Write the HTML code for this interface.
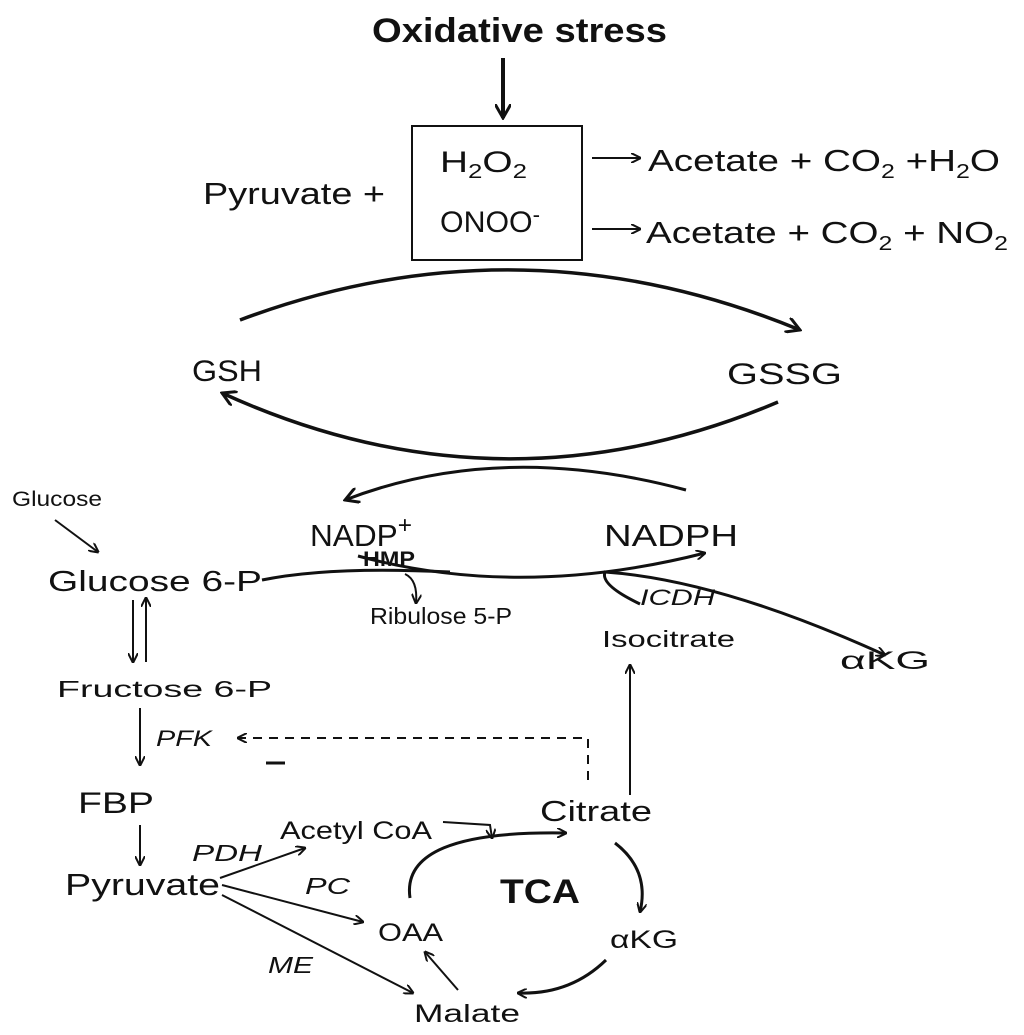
<!DOCTYPE html>
<html><head><meta charset="utf-8"><style>body{margin:0;background:#fff}svg{display:block}text{font-family:"Liberation Sans",sans-serif;fill:#111}</style></head><body>
<svg width="1024" height="1035" viewBox="0 0 1024 1035" xmlns="http://www.w3.org/2000/svg">
<defs>
<marker id="a" markerWidth="10" markerHeight="10" refX="9" refY="5" orient="auto" markerUnits="userSpaceOnUse"><path d="M0,0 L10,5 L0,10" fill="none" stroke="#111" stroke-width="2"/></marker>
<marker id="b" markerWidth="16" markerHeight="16" refX="14" refY="8" orient="auto" markerUnits="userSpaceOnUse"><path d="M0,0 L14,8 L0,16" fill="none" stroke="#111" stroke-width="3"/></marker>
</defs>
<g stroke="#111" fill="none">
<line x1="503" y1="58" x2="503" y2="118" stroke-width="4" marker-end="url(#b)"/>
<rect x="412" y="126" width="170" height="134" stroke-width="2"/>
<line x1="592" y1="158" x2="640" y2="158" stroke-width="2" marker-end="url(#a)"/>
<line x1="592" y1="229" x2="640" y2="229" stroke-width="2" marker-end="url(#a)"/>
<path d="M240,320 Q520,215 800,330" stroke-width="3.5" marker-end="url(#b)"/>
<path d="M778,402 Q500,520 222,393" stroke-width="3.5" marker-end="url(#b)"/>
<path d="M686,490 Q500,440 345,500" stroke-width="3" marker-end="url(#b)"/>
<line x1="55" y1="520" x2="98" y2="552" stroke-width="2" marker-end="url(#a)"/>
<path d="M262,580 Q330,566 450,572" stroke-width="3"/>
<path d="M358,556 Q520,600 705,553" stroke-width="3" marker-end="url(#a)"/>
<path d="M405,574 Q418,580 416,603" stroke-width="2" marker-end="url(#a)"/>
<path d="M640,604 Q600,585 605,572 Q720,580 885,655" stroke-width="3" marker-end="url(#a)"/>
<line x1="133" y1="600" x2="133" y2="662" stroke-width="2" marker-end="url(#a)"/>
<line x1="146" y1="662" x2="146" y2="598" stroke-width="2" marker-end="url(#a)"/>
<line x1="140" y1="708" x2="140" y2="765" stroke-width="2" marker-end="url(#a)"/>
<path d="M588,780 L588,738 L238,738" stroke-width="2" stroke-dasharray="9,7" marker-end="url(#a)"/>
<line x1="266" y1="763" x2="285" y2="763" stroke-width="3"/>
<line x1="140" y1="825" x2="140" y2="865" stroke-width="2" marker-end="url(#a)"/>
<line x1="220" y1="878" x2="305" y2="848" stroke-width="2" marker-end="url(#a)"/>
<line x1="222" y1="885" x2="363" y2="922" stroke-width="2" marker-end="url(#a)"/>
<line x1="222" y1="895" x2="413" y2="993" stroke-width="2" marker-end="url(#a)"/>
<path d="M443,822 L490,825 L492,838" stroke-width="2" marker-end="url(#a)"/>
<path d="M410,898 Q400,830 566,833" stroke-width="3" marker-end="url(#a)"/>
<line x1="630" y1="795" x2="630" y2="665" stroke-width="2" marker-end="url(#a)"/>
<path d="M615,843 Q650,870 640,912" stroke-width="3" marker-end="url(#a)"/>
<path d="M606,960 Q570,995 518,993" stroke-width="3" marker-end="url(#a)"/>
<line x1="458" y1="990" x2="425" y2="952" stroke-width="2" marker-end="url(#a)"/>
</g>
<g lengthAdjust="spacingAndGlyphs">
<text x="372" y="42" font-size="34" font-weight="bold" textLength="295" lengthAdjust="spacingAndGlyphs">Oxidative stress</text>
<text x="440" y="172" font-size="30" textLength="87" lengthAdjust="spacingAndGlyphs">H<tspan font-size="20" dy="6">2</tspan><tspan dy="-6">O</tspan><tspan font-size="20" dy="6">2</tspan></text>
<text x="440" y="232" font-size="30" textLength="100" lengthAdjust="spacingAndGlyphs">ONOO<tspan font-size="22" dy="-10">-</tspan></text>
<text x="203" y="204" font-size="31" textLength="182" lengthAdjust="spacingAndGlyphs">Pyruvate +</text>
<text x="648" y="171" font-size="31" textLength="352" lengthAdjust="spacingAndGlyphs">Acetate + CO<tspan font-size="20" dy="7">2</tspan><tspan dy="-7"> +H</tspan><tspan font-size="20" dy="7">2</tspan><tspan dy="-7">O</tspan></text>
<text x="646" y="243" font-size="31" textLength="362" lengthAdjust="spacingAndGlyphs">Acetate + CO<tspan font-size="20" dy="7">2</tspan><tspan dy="-7"> + NO</tspan><tspan font-size="20" dy="7">2</tspan></text>
<text x="192" y="381" font-size="30" textLength="70" lengthAdjust="spacingAndGlyphs">GSH</text>
<text x="727" y="384" font-size="30" textLength="115" lengthAdjust="spacingAndGlyphs">GSSG</text>
<text x="12" y="506" font-size="21" textLength="90" lengthAdjust="spacingAndGlyphs">Glucose</text>
<text x="310" y="546" font-size="31" textLength="102" lengthAdjust="spacingAndGlyphs">NADP<tspan font-size="24" dy="-13">+</tspan></text>
<text x="363" y="566" font-size="21" font-weight="bold" textLength="52" lengthAdjust="spacingAndGlyphs">HMP</text>
<text x="604" y="546" font-size="31" textLength="134" lengthAdjust="spacingAndGlyphs">NADPH</text>
<text x="48" y="591" font-size="29" textLength="214" lengthAdjust="spacingAndGlyphs">Glucose 6-P</text>
<text x="370" y="624" font-size="23" textLength="142" lengthAdjust="spacingAndGlyphs">Ribulose 5-P</text>
<text x="640" y="605" font-size="22" font-style="italic" textLength="75" lengthAdjust="spacingAndGlyphs">ICDH</text>
<text x="602" y="647" font-size="23" textLength="133" lengthAdjust="spacingAndGlyphs">Isocitrate</text>
<text x="840" y="669" font-size="25" textLength="90" lengthAdjust="spacingAndGlyphs">αKG</text>
<text x="57" y="697" font-size="23" textLength="215" lengthAdjust="spacingAndGlyphs">Fructose 6-P</text>
<text x="156" y="746" font-size="22" font-style="italic" textLength="56" lengthAdjust="spacingAndGlyphs">PFK</text>
<text x="78" y="813" font-size="30" textLength="76" lengthAdjust="spacingAndGlyphs">FBP</text>
<text x="540" y="821" font-size="29" textLength="112" lengthAdjust="spacingAndGlyphs">Citrate</text>
<text x="280" y="839" font-size="25" textLength="152" lengthAdjust="spacingAndGlyphs">Acetyl CoA</text>
<text x="192" y="861" font-size="23" font-style="italic" textLength="70" lengthAdjust="spacingAndGlyphs">PDH</text>
<text x="65" y="895" font-size="31" textLength="155" lengthAdjust="spacingAndGlyphs">Pyruvate</text>
<text x="305" y="894" font-size="23" font-style="italic" textLength="45" lengthAdjust="spacingAndGlyphs">PC</text>
<text x="500" y="903" font-size="34" font-weight="bold" textLength="80" lengthAdjust="spacingAndGlyphs">TCA</text>
<text x="378" y="941" font-size="25" textLength="65" lengthAdjust="spacingAndGlyphs">OAA</text>
<text x="610" y="948" font-size="25" textLength="68" lengthAdjust="spacingAndGlyphs">αKG</text>
<text x="268" y="973" font-size="23" font-style="italic" textLength="45" lengthAdjust="spacingAndGlyphs">ME</text>
<text x="414" y="1022" font-size="25" textLength="106" lengthAdjust="spacingAndGlyphs">Malate</text>
</g>
</svg>
</body></html>
